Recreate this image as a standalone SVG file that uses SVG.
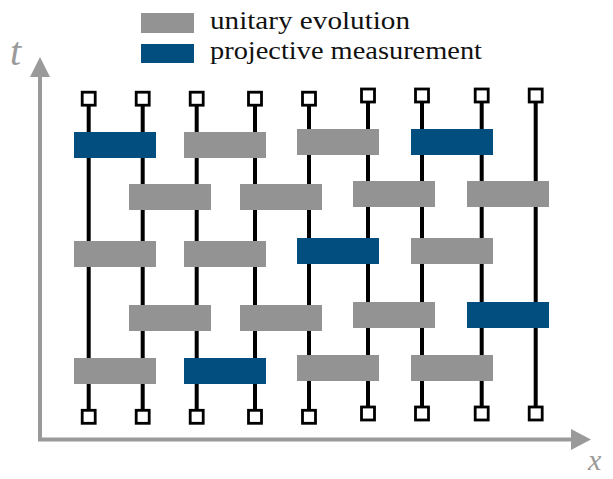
<svg xmlns="http://www.w3.org/2000/svg" width="613" height="479" viewBox="0 0 613 479">
<style>
.u{fill:#939393}
.m{fill:#024f7f}
.w{stroke:#000;stroke-width:4;fill:none}
.q{fill:#fff;stroke:#000;stroke-width:2.8}
.ax{stroke:#9a9a9a;stroke-width:4;fill:none}
.ah{fill:#9a9a9a}
.lg{font-family:"Liberation Serif","DejaVu Serif","Times New Roman",serif;font-size:26px;fill:#111}
.al{font-family:"Liberation Serif","DejaVu Serif","Times New Roman",serif;font-style:italic;fill:#9a9a9a}
</style>
<rect width="613" height="479" fill="#fff"/>
<g id="legend">
<rect class="u" x="141" y="13" width="53" height="20"/>
<rect class="m" x="141" y="44" width="53" height="19"/>
<text class="lg" x="210" y="29" textLength="200" lengthAdjust="spacingAndGlyphs">unitary evolution</text>
<text class="lg" x="210" y="59" textLength="272" lengthAdjust="spacingAndGlyphs">projective measurement</text>
</g>
<g id="axes">
<line class="ax" x1="40" y1="441" x2="40" y2="75"/>
<polygon class="ah" points="40,57 30,77 50,77"/>
<line class="ax" x1="38" y1="439.5" x2="573" y2="439.5"/>
<polygon class="ah" points="591,439.5 571,429 571,450"/>
<text class="al" x="10" y="65" font-size="40">t</text>
<text class="al" x="588" y="470" font-size="30">x</text>
</g>
<g id="connectors">
<line class="w" x1="88.7" y1="99" x2="88.7" y2="417"/>
<line class="w" x1="142.7" y1="99" x2="142.7" y2="417"/>
<line class="w" x1="196.7" y1="99" x2="196.7" y2="417"/>
<line class="w" x1="255" y1="99" x2="255" y2="417"/>
<line class="w" x1="309" y1="99" x2="309" y2="417"/>
<line class="w" x1="368" y1="96" x2="368" y2="414"/>
<line class="w" x1="422" y1="96" x2="422" y2="414"/>
<line class="w" x1="481.7" y1="96" x2="481.7" y2="414"/>
<line class="w" x1="535.7" y1="96" x2="535.7" y2="414"/>
</g>
<g id="gates">
<g id="g1a"><rect class="m" x="74" y="132" width="82" height="26"/></g>
<g id="g1b"><rect class="u" x="184" y="132" width="82" height="26"/></g>
<g id="g1c"><rect class="u" x="297" y="129" width="82" height="26"/></g>
<g id="g1d"><rect class="m" x="411" y="129" width="82" height="26"/></g>
<g id="g2a"><rect class="u" x="129" y="184" width="82" height="26"/></g>
<g id="g2b"><rect class="u" x="240" y="184" width="82" height="26"/></g>
<g id="g2c"><rect class="u" x="353" y="181" width="82" height="26"/></g>
<g id="g2d"><rect class="u" x="467" y="181" width="82" height="26"/></g>
<g id="g3a"><rect class="u" x="74" y="241" width="82" height="26"/></g>
<g id="g3b"><rect class="u" x="184" y="241" width="82" height="26"/></g>
<g id="g3c"><rect class="m" x="297" y="238" width="82" height="26"/></g>
<g id="g3d"><rect class="u" x="411" y="238" width="82" height="26"/></g>
<g id="g4a"><rect class="u" x="129" y="305" width="82" height="26"/></g>
<g id="g4b"><rect class="u" x="240" y="305" width="82" height="26"/></g>
<g id="g4c"><rect class="u" x="353" y="302" width="82" height="26"/></g>
<g id="g4d"><rect class="m" x="467" y="302" width="82" height="26"/></g>
<g id="g5a"><rect class="u" x="74" y="358" width="82" height="26"/></g>
<g id="g5b"><rect class="m" x="184" y="358" width="82" height="26"/></g>
<g id="g5c"><rect class="u" x="297" y="355" width="82" height="26"/></g>
<g id="g5d"><rect class="u" x="411" y="355" width="82" height="26"/></g>
</g>
<g id="top-sites">
<g id="t1"><rect class="q" x="82.2" y="92.2" width="13" height="13"/></g>
<g id="t2"><rect class="q" x="136.2" y="92.2" width="13" height="13"/></g>
<g id="t3"><rect class="q" x="190.2" y="92.2" width="13" height="13"/></g>
<g id="t4"><rect class="q" x="248.5" y="92.2" width="13" height="13"/></g>
<g id="t5"><rect class="q" x="302.5" y="92.2" width="13" height="13"/></g>
<g id="t6"><rect class="q" x="361.5" y="89" width="13" height="13"/></g>
<g id="t7"><rect class="q" x="415.5" y="89" width="13" height="13"/></g>
<g id="t8"><rect class="q" x="475.2" y="89" width="13" height="13"/></g>
<g id="t9"><rect class="q" x="529.2" y="89" width="13" height="13"/></g>
</g>
<g id="bottom-sites">
<g id="b1"><rect class="q" x="82.2" y="410.3" width="13" height="13"/></g>
<g id="b2"><rect class="q" x="136.2" y="410.3" width="13" height="13"/></g>
<g id="b3"><rect class="q" x="190.2" y="410.3" width="13" height="13"/></g>
<g id="b4"><rect class="q" x="248.5" y="410.3" width="13" height="13"/></g>
<g id="b5"><rect class="q" x="302.5" y="410.3" width="13" height="13"/></g>
<g id="b6"><rect class="q" x="361.5" y="407" width="13" height="13"/></g>
<g id="b7"><rect class="q" x="415.5" y="407" width="13" height="13"/></g>
<g id="b8"><rect class="q" x="475.2" y="407" width="13" height="13"/></g>
<g id="b9"><rect class="q" x="529.2" y="407" width="13" height="13"/></g>
</g>
</svg>
